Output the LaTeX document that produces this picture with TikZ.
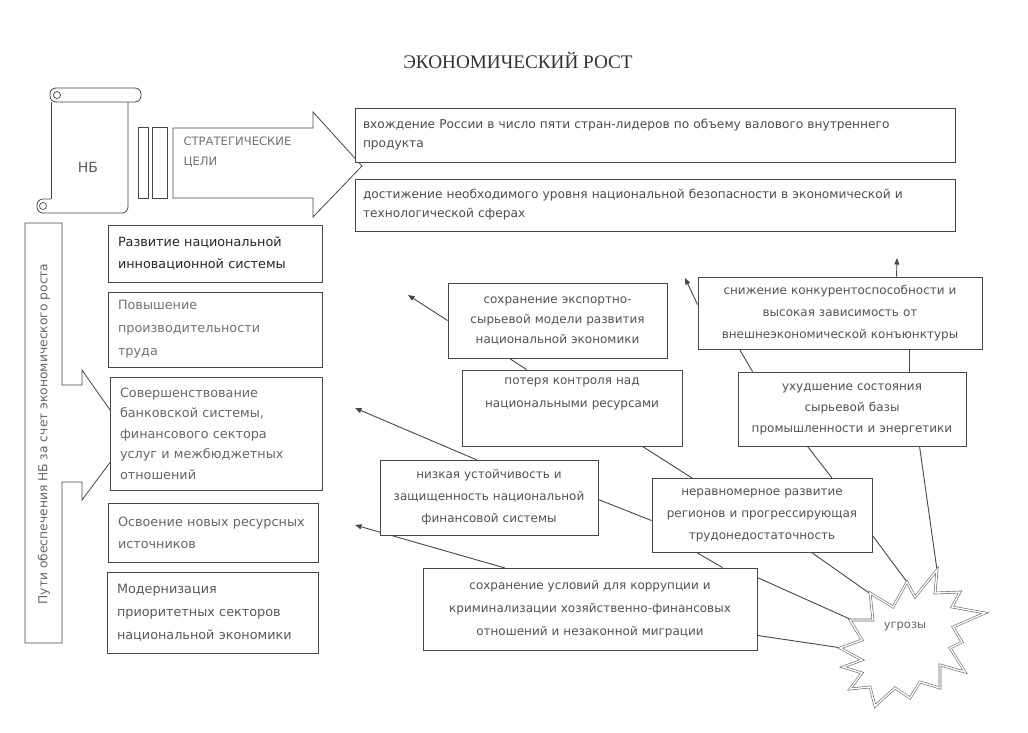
\documentclass[tikz,border=0pt]{standalone}
\usepackage{fontspec}
\setmainfont{DejaVu Sans}
\newfontfamily\titlefont{Liberation Serif}
\usetikzlibrary{arrows.meta,calc}
\begin{document}
\begin{tikzpicture}[x=1pt,y=-1pt,
  ln/.style={draw=black!72, line width=0.9pt},
  conn/.style={draw=black!72, line width=0.9pt},
  arr/.style={conn,-{Triangle[length=6.5pt,width=5pt]}},
  lbox/.style={ln, fill=white, inner xsep=10pt, inner ysep=0pt, align=left, text=black!75},
  tbox/.style={ln, fill=white, inner xsep=8pt, inner ysep=0pt, align=left, text=black!70,
     font=\fontsize{12.2}{19}\selectfont},
  rbox/.style={ln, fill=white, inner xsep=4pt, inner ysep=0pt, align=center, text=black!68},
  lfont/.style={font=\fontsize{12.8}{#1}\selectfont},
  rfont/.style={font=\fontsize{12}{#1}\selectfont}
]
\fill[white] (0,0) rectangle (1028,732);
\useasboundingbox (0,0) rectangle (1028,732);

% title
\node[font=\titlefont\fontsize{19.2}{19}\selectfont, text=black!80] (title) at (518,60) {ЭКОНОМИЧЕСКИЙ РОСТ};

% scroll
\draw[ln, line width=0.8pt] (51,102) -- (51,199);
\draw[ln, line width=0.8pt, rounded corners=6pt] (51,199) -- (37,199) -- (37,213) -- (128,213) -- (128,102);
\draw[ln, line width=0.8pt, rounded corners=6pt, fill=white] (50,88) rectangle (141,102);
\draw[ln, line width=0.7pt] (57,95) circle[radius=3.5pt];
\draw[ln, line width=0.7pt] (43,206) circle[radius=3.5pt];
\node[font=\fontsize{14}{14}\selectfont, text=black!65] (nb) at (88,167) {НБ};

% strategic arrow
\draw[ln, line width=0.8pt] (138,127) rectangle (148,198);
\draw[ln, line width=0.8pt] (152,127) rectangle (167,198);
\draw[ln, line width=0.8pt, fill=white] (173,128) -- (313,128) -- (313,112) -- (362,166) -- (313,217) -- (313,198) -- (173,198) -- cycle;
\node[anchor=west, align=left, font=\fontsize{11.6}{20}\selectfont, text=black!55] (goals) at (180,152) {СТРАТЕГИЧЕСКИЕ\\ЦЕЛИ};

% top boxes
\node[tbox, minimum width=600pt, minimum height=54pt, text width=584pt] (t1) at (655,135)
  {вхождение России в число пяти стран-лидеров по объему валового внутреннего\\продукта};
\node[tbox, minimum width=600pt, minimum height=52pt, text width=584pt] (t2) at (655,205)
  {достижение необходимого уровня национальной безопасности в экономической и\\технологической сферах};

% vertical callout
\draw[ln, line width=0.8pt, fill=white] (25,223) -- (62,223) -- (62,385) -- (82,385) -- (82,370) -- (129,437)
  -- (82,500) -- (82,482) -- (62,482) -- (62,643) -- (25,643) -- cycle;
\node[rotate=90, font=\fontsize{12.3}{12}\selectfont, text=black!60] (ways) at (44,434)
  {Пути обеспечения НБ  за счет экономического роста};

% left boxes
\node[lbox, lfont=22, text=black!85, minimum width=214pt, minimum height=57pt, text width=194pt] (l1) at (215,253.5)
  {Развитие национальной\\инновационной системы};
\node[lbox, lfont=23, text=black!55, minimum width=214pt, minimum height=75pt, text width=194pt] (l2) at (215,329.5)
  {Повышение\\производительности\\труда};
\node[lbox, lfont=20.5, text=black!60, minimum width=212pt, minimum height=113pt, text width=192pt] (l3) at (216,433.5)
  {Совершенствование\\банковской системы,\\финансового сектора\\услуг и  межбюджетных\\отношений};
\node[lbox, lfont=22, text=black!60, minimum width=210pt, minimum height=59pt, text width=190pt] (l4) at (213,532.5)
  {Освоение новых ресурсных\\источников};
\node[lbox, lfont=23, text=black!65, minimum width=211pt, minimum height=81pt, text width=191pt] (l5) at (212.5,612.5)
  {Модернизация\\приоритетных секторов\\национальной экономики};

% free arrow ends and star points
\coordinate (aA) at (408,295);
\coordinate (aB) at (685,278);
\coordinate (aB2) at (897,258);
\coordinate (aE) at (355,408);
\coordinate (aG) at (355,525);
\coordinate (s1) at (907,582);
\coordinate (s2) at (937,570);
\coordinate (s3) at (872,595);
\coordinate (s4) at (852,620);
\coordinate (s5) at (842,648);

% threat boxes
\node[rbox, rfont=20, minimum width=219pt, minimum height=75pt, text width=211pt] (A) at (557.5,320.5)
  {сохранение экспортно-\\сырьевой модели развития\\национальной экономики};
\node[rbox, rfont=22, minimum width=284pt, minimum height=72pt, text width=276pt] (B) at (840,313)
  {снижение конкурентоспособности и\\высокая зависимость от\\внешнеэкономической  конъюнктуры};
\node[rbox, rfont=23, minimum width=220pt, minimum height=76pt, text width=212pt] (C) at (572,408)
  {потеря контроля над\\национальными ресурсами\\\strut};
\node[rbox, rfont=21, minimum width=228pt, minimum height=74pt, text width=220pt] (D) at (852,409)
  {ухудшение состояния\\сырьевой базы\\промышленности и энергетики};

% connectors (behind E, F, G)
\draw[arr] (A.west) -- (aA);
\draw[conn] ($(A.south west)+(62,0)$) -- ($(C.north west)+(65,0)$);
\draw[arr] ($(B.north west)+(0,28)$) -- (aB);
\draw[arr] ($(B.north west)+(199,0)$) -- (aB2);
\draw[conn] ($(B.south west)+(42,0)$) -- ($(D.north west)+(15,0)$);
\draw[conn] ($(B.south west)+(212,0)$) -- ($(D.north west)+(172,0)$);
\draw[conn] ($(C.south west)+(181,0)$) -- (692,478) coordinate (cF1);
\draw[conn] ($(D.south west)+(70,0)$) -- (832,478) coordinate (cF2);
\draw[conn] ($(D.south west)+(182,0)$) -- (s2);
\draw[arr] (477,460) coordinate (cE1) -- (aE);
\draw[arr] (505,568) coordinate (cG1) -- (aG);

\node[rbox, rfont=22, minimum width=218pt, minimum height=75pt, text width=210pt] (E) at (489,497.5)
  {низкая устойчивость и\\защищенность национальной\\финансовой системы};
\node[rbox, rfont=22, minimum width=220pt, minimum height=74pt, text width=212pt] (F) at (762,515)
  {неравномерное развитие\\регионов и прогрессирующая\\трудонедостаточность};
\node[rbox, rfont=23, minimum width=334pt, minimum height=82pt, text width=326pt] (G) at (590,609)
  {сохранение условий для коррупции и\\криминализации хозяйственно-финансовых\\отношений и незаконной миграции};

\draw[conn] ($(E.north east)+(0,40)$) -- ($(F.north west)+(0,43)$);
\draw[conn] ($(F.south west)+(45,0)$) -- ($(G.north west)+(300,0)$);
\draw[conn] ($(F.south east)+(0,-17)$) -- (s1);
\draw[conn] ($(F.south west)+(160,0)$) -- (s3);
\draw[conn] ($(G.north east)+(0,10)$) -- (s4);
\draw[conn] ($(G.south east)+(0,-15)$) -- (s5);

% star of threats
\draw[draw=black!60, line width=0.6pt, double=white, double distance=1.4pt, fill=white, line join=miter]
  (907,582) -- (915,597) -- (937,570) -- (935,593) -- (960,592) -- (952,607) -- (985,613)
  -- (953,627) -- (962,642) -- (950,648) -- (965,672) -- (940,665) -- (940,688) -- (920,682)
  -- (910,698) -- (895,688) -- (875,706) -- (870,687) -- (850,689) -- (862,673) -- (843,667)
  -- (862,660) -- (840,648) -- (862,640) -- (850,620) -- (873,620) -- (870,593) -- (893,607) -- cycle;
\node[font=\fontsize{11.5}{12}\selectfont, text=black!60] (threat) at (905,626) {угрозы};
\end{tikzpicture}
\end{document}
